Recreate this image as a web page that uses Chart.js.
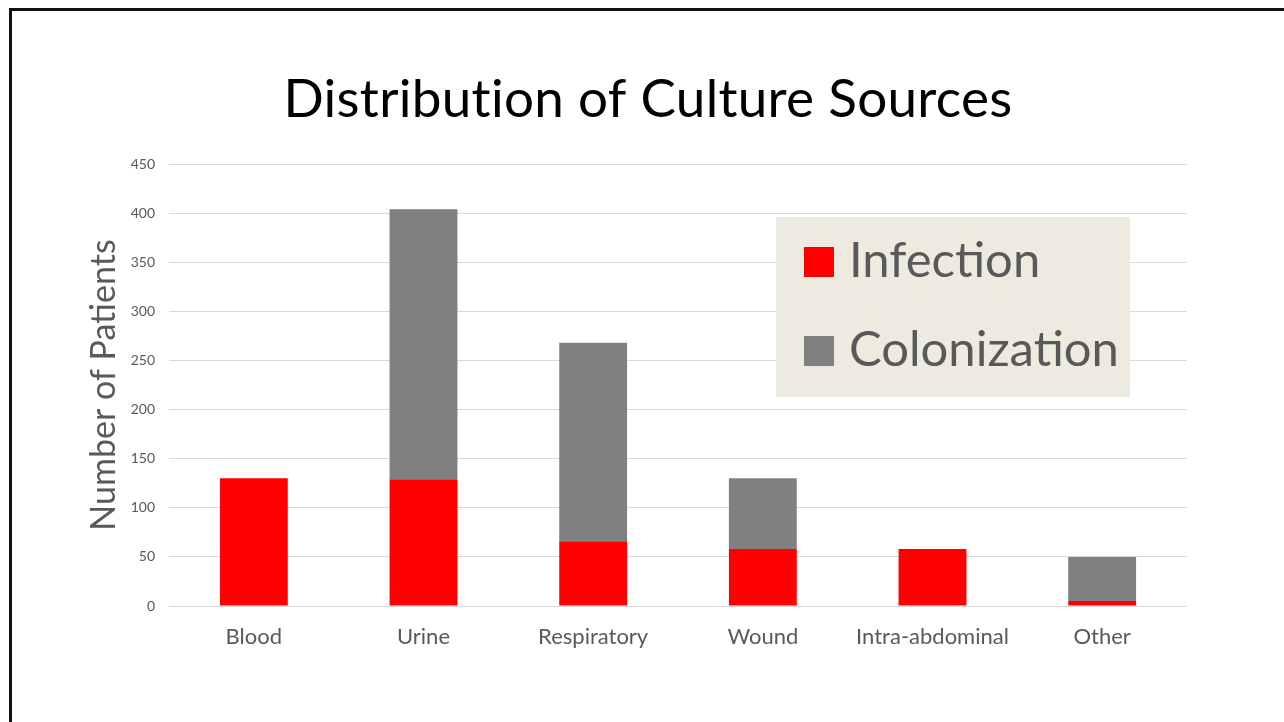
<!DOCTYPE html>
<html>
<head>
<meta charset="utf-8">
<script src="https://cdn.jsdelivr.net/npm/chart.js@4.4.1/dist/chart.umd.min.js"></script>
<style>
  html, body { margin: 0; padding: 0; background: #ffffff; }
  #wrap { position: relative; width: 1284px; height: 722px; overflow: hidden; }
  #c { position: absolute; left: 0; top: 0; }
  #frame {
    position: absolute; left: 9px; top: 8px; right: -20px; bottom: -20px;
    border-left: 3px solid #111111; border-top: 3px solid #111111;
    pointer-events: none;
  }
</style>
</head>
<body>
<div id="wrap">
  <canvas id="c" width="1284" height="722"></canvas>
  <div id="frame"></div>
</div>
<script>
// Culture sources and patient counts per outcome
const categories = ['Blood', 'Urine', 'Respiratory', 'Wound', 'Intra-abdominal', 'Other'];
const infection = [130, 129, 66, 58, 58, 5];
const colonization = [0, 275, 202, 72, 0, 45];
const yTickValues = [0, 50, 100, 150, 200, 250, 300, 350, 400, 450];

const chartTitle = 'Distribution of Culture Sources';
const yAxisTitle = 'Number of Patients';

const FONT = 'Lato, "Open Sans", sans-serif';
const TEXT_GREY = '#595959';

// Slide title drawn centred above the plot
const titlePlugin = {
  id: 'slideTitle',
  afterDraw(chart) {
    const ctx = chart.ctx;
    ctx.save();
    ctx.font = '53px ' + FONT;
    if ('letterSpacing' in ctx) ctx.letterSpacing = '0.3px';
    ctx.fillStyle = '#000000';
    ctx.textAlign = 'center';
    ctx.textBaseline = 'alphabetic';
    ctx.fillText(chartTitle, 648, 117);
    ctx.restore();
  }
};

// Legend panel placed inside the plot area, upper right
const boxLegend = {
  id: 'boxLegend',
  afterDatasetsDraw(chart) {
    const ctx = chart.ctx;
    const x0 = 776, y0 = 217, w = 354, h = 180;
    ctx.save();
    ctx.fillStyle = '#EDEBE0';
    ctx.fillRect(x0, y0, w, h);
    ctx.font = '49px ' + FONT;
    ctx.textBaseline = 'alphabetic';
    ctx.textAlign = 'left';
    chart.data.datasets.forEach((ds, i) => {
      const sqTop = 247 + i * 89;
      ctx.fillStyle = ds.backgroundColor;
      ctx.fillRect(804, sqTop, 30, 30);
      ctx.fillStyle = TEXT_GREY;
      ctx.fillText(ds.label, 849, sqTop + 30);
    });
    ctx.restore();
  }
};

const yMax = yTickValues[yTickValues.length - 1];
const yStep = yTickValues[1] - yTickValues[0];

new Chart(document.getElementById('c'), {
  type: 'bar',
  data: {
    labels: categories,
    datasets: [
      { label: 'Infection', data: infection, backgroundColor: '#FF0000', borderWidth: 0 },
      { label: 'Colonization', data: colonization, backgroundColor: '#808080', borderWidth: 0 }
    ]
  },
  options: {
    responsive: false,
    animation: false,
    devicePixelRatio: 1,
    layout: { padding: { top: 164, left: 0, right: 97, bottom: 0 } },
    datasets: { bar: { barPercentage: 0.4, categoryPercentage: 1.0 } },
    plugins: {
      legend: { display: false },
      title: { display: false },
      tooltip: { enabled: false }
    },
    scales: {
      x: {
        stacked: true,
        grid: { display: false, drawTicks: false },
        border: { display: false },
        ticks: { color: TEXT_GREY, font: { family: FONT, size: 22 }, padding: 18, maxRotation: 0 },
        afterFit(scale) { scale.height = 116; }
      },
      y: {
        stacked: true,
        min: 0,
        max: yMax,
        ticks: { stepSize: yStep, color: TEXT_GREY, font: { family: FONT, size: 14 }, padding: 14 },
        grid: { color: '#D9D9D9', lineWidth: 1, drawTicks: false },
        border: { display: false },
        title: {
          display: true,
          text: yAxisTitle,
          color: TEXT_GREY,
          font: { family: FONT, size: 34 },
          padding: { top: 84, bottom: 0 }
        },
        afterFit(scale) { scale.width = 169; }
      }
    }
  },
  plugins: [titlePlugin, boxLegend]
});
</script>
</body>
</html>
